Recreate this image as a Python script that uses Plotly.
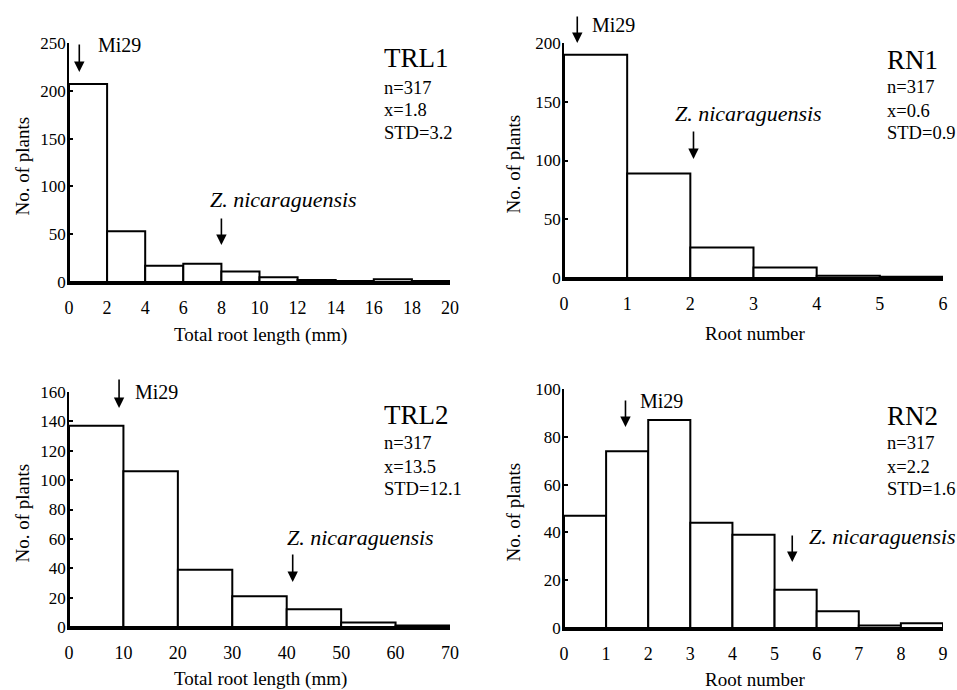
import plotly.graph_objects as go

# ---------------- data ----------------
trl1_edges = [0, 2, 4, 6, 8, 10, 12, 14, 16, 18, 20]
trl1_counts = [207, 53, 17, 19, 11, 5, 2, 1, 3, 1]
rn1_edges = [0, 1, 2, 3, 4, 5, 6]
rn1_counts = [190, 89, 26, 9, 2, 1]
trl2_edges = [0, 10, 20, 30, 40, 50, 60, 70]
trl2_counts = [137, 106, 39, 21, 12, 3, 1]
rn2_edges = [0, 1, 2, 3, 4, 5, 6, 7, 8, 9]
rn2_counts = [47, 74, 87, 44, 39, 16, 7, 1, 2]

panel_names = ["TRL1", "RN1", "TRL2", "RN2"]
panel_stats = [["n=317", "x=1.8", "STD=3.2"],
               ["n=317", "x=0.6", "STD=0.9"],
               ["n=317", "x=13.5", "STD=12.1"],
               ["n=317", "x=2.2", "STD=1.6"]]
x_titles = ["Total root length (mm)", "Root number", "Total root length (mm)", "Root number"]
y_title = "No. of plants"
y_ticks = [[0, 50, 100, 150, 200, 250], [0, 50, 100, 150, 200],
           [0, 20, 40, 60, 80, 100, 120, 140, 160], [0, 20, 40, 60, 80, 100]]
mi29_x = [0.54, 0.21, 9.2, 1.46]
znic_x = [8, 2.05, 41.1, 5.42]

# ---------------- layout helpers ----------------
W, H = 957, 690
FONT = "Liberation Serif, Times New Roman, serif"

def px(x, y):
    return x / W, 1 - y / H

# plot areas in pixels: x0, x1, ytop, ybottom
areas = [(69, 450, 43, 282), (564, 943, 43, 278), (69, 450, 392, 627), (564, 943, 389, 628)]
edges_all = [trl1_edges, rn1_edges, trl2_edges, rn2_edges]
counts_all = [trl1_counts, rn1_counts, trl2_counts, rn2_counts]

fig = go.Figure()
layout = dict(width=W, height=H, margin=dict(l=0, r=0, t=0, b=0),
              template="none", plot_bgcolor="white", paper_bgcolor="white",
              showlegend=False, font=dict(family=FONT, color="black"))
annotations = []

# text layout (pixel positions)
mi29_pos = [(96, 45), (590, 25), (133, 392), (638, 401)]
znic_pos = [(283, 200), (748, 113), (360, 537), (882, 536)]
title_pos = [(382, 58), (885, 60), (382, 415), (885, 416)]
stats_y = [[88, 110, 133], [87, 111, 133], [443, 467, 489], [443, 467, 489]]
mi29_arrow_px = [(43, 72), (15, 43), (378, 408), (399, 427)]
znic_arrow_px = [(217, 245), (130, 159), (553, 582), (534, 562)]
xt_y = [335, 333, 679, 679]
yt_x = [22, 513, 22, 513]

for i in range(4):
    edges = edges_all[i]
    counts = counts_all[i]
    centers = [(edges[k] + edges[k + 1]) / 2 for k in range(len(counts))]
    widths = [edges[k + 1] - edges[k] for k in range(len(counts))]
    xa = "x" if i == 0 else f"x{i+1}"
    ya = "y" if i == 0 else f"y{i+1}"
    fig.add_trace(go.Bar(x=centers, y=counts, width=widths, xaxis=xa, yaxis=ya,
                         marker=dict(color="white", line=dict(color="black", width=2)),
                         hoverinfo="skip"))
    x0, x1, yt, yb = areas[i]
    ymax = y_ticks[i][-1]
    xmax = edges[-1]
    xkey = "xaxis" if i == 0 else f"xaxis{i+1}"
    ykey = "yaxis" if i == 0 else f"yaxis{i+1}"
    layout[xkey] = dict(domain=[x0 / W, x1 / W], range=[0, xmax], anchor=ya,
                        showline=True, linecolor="black", linewidth=2.5, ticks="",
                        tickvals=edges, showgrid=False, zeroline=False,
                        tickfont=dict(size=18, family=FONT), ticklabelstandoff=8,
                        automargin=False)
    layout[ykey] = dict(domain=[1 - yb / H, 1 - yt / H], range=[0, ymax], anchor=xa,
                        showline=True, linecolor="black", linewidth=1.5, ticks="inside",
                        ticklen=4, tickwidth=1.5, tickcolor="black",
                        tickvals=y_ticks[i], showgrid=False, zeroline=False,
                        tickfont=dict(size=17, family=FONT), ticklabelstandoff=-2,
                        automargin=False)

    def ydata(py):
        return (yb - py) / (yb - yt) * ymax

    # arrows
    for ax_x, (ptail, ptip) in [(mi29_x[i], mi29_arrow_px[i]), (znic_x[i], znic_arrow_px[i])]:
        annotations.append(dict(x=ax_x, y=ydata(ptip), ax=ax_x, ay=ydata(ptail),
                                xref=xa, yref=ya, axref=xa, ayref=ya, text="",
                                showarrow=True, arrowhead=2, arrowsize=1.3,
                                arrowwidth=1.6, arrowcolor="black"))
    # Mi29 label
    mx, my = px(*mi29_pos[i])
    annotations.append(dict(x=mx, y=my, xref="paper", yref="paper", text="Mi29",
                            showarrow=False, xanchor="left", yanchor="middle",
                            font=dict(size=20, family=FONT)))
    zx, zy = px(*znic_pos[i])
    annotations.append(dict(x=zx, y=zy, xref="paper", yref="paper",
                            text="<i>Z. nicaraguensis</i>",
                            showarrow=False, xanchor="center", yanchor="middle",
                            font=dict(size=22, family=FONT)))
    tx, ty = px(*title_pos[i])
    annotations.append(dict(x=tx, y=ty, xref="paper", yref="paper", text=panel_names[i],
                            showarrow=False, xanchor="left", yanchor="middle",
                            font=dict(size=27, family=FONT)))
    for s, sy in zip(panel_stats[i], stats_y[i]):
        sx, syp = px(title_pos[i][0], sy)
        annotations.append(dict(x=sx, y=syp, xref="paper", yref="paper", text=s,
                                showarrow=False, xanchor="left", yanchor="middle",
                                font=dict(size=18.5, family=FONT)))
    # axis titles
    cx, cy = px((x0 + x1) / 2 + 1, xt_y[i])
    annotations.append(dict(x=cx, y=cy, xref="paper", yref="paper", text=x_titles[i],
                            showarrow=False, xanchor="center", yanchor="middle",
                            font=dict(size=19, family=FONT)))
    vx, vy = px(yt_x[i], (yt + yb) / 2 + 4)
    annotations.append(dict(x=vx, y=vy, xref="paper", yref="paper", text=y_title,
                            showarrow=False, xanchor="center", yanchor="middle",
                            textangle=-90, font=dict(size=19, family=FONT)))

layout["annotations"] = annotations
fig.update_layout(**layout)
fig.write_html("out.html", config={"displayModeBar": False},
               post_script="document.body.style.margin='0';document.body.style.overflow='hidden';")
